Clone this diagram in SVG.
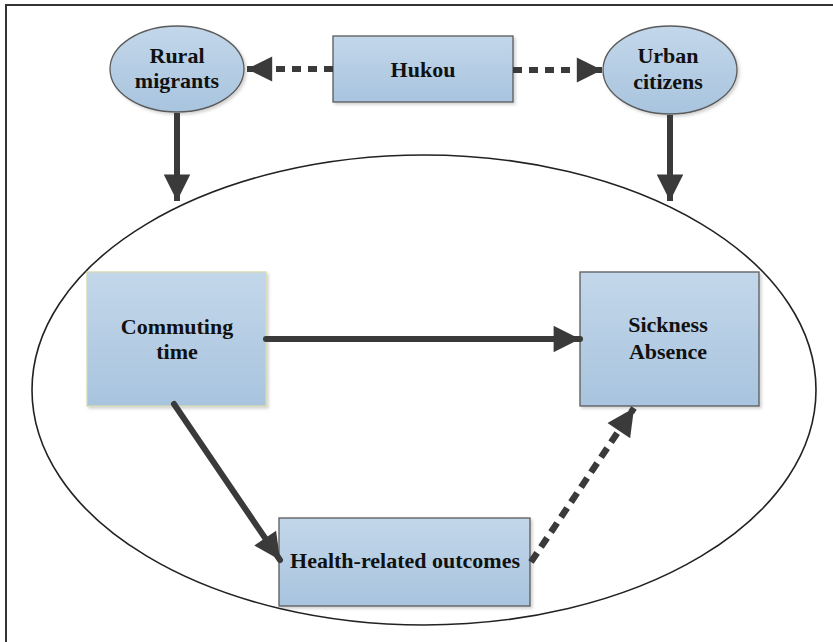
<svg xmlns="http://www.w3.org/2000/svg" width="833" height="642" viewBox="0 0 833 642">
  <defs>
    <linearGradient id="fill" x1="0" y1="0" x2="0" y2="1">
      <stop offset="0" stop-color="#c3d7ea"/>
      <stop offset="1" stop-color="#a8c4de"/>
    </linearGradient>
    <filter id="sh" x="-10%" y="-10%" width="130%" height="130%">
      <feDropShadow dx="2" dy="2" stdDeviation="1.5" flood-color="#000" flood-opacity="0.18"/>
    </filter>
    <marker id="ah" viewBox="0 0 10 10" refX="10" refY="5" markerWidth="6.4" markerHeight="4.4" markerUnits="strokeWidth" orient="auto">
      <path d="M0,0 L10,5 L0,10 Z" fill="#3a3a3a"/>
    </marker>
    <marker id="ahd" viewBox="0 0 10 10" refX="10" refY="5" markerWidth="5.2" markerHeight="4.2" markerUnits="strokeWidth" orient="auto">
      <path d="M0,0 L10,5 L0,10 Z" fill="#3a3a3a"/>
    </marker>
  </defs>
  <style>
    .node { fill: url(#fill); stroke: #5a5a5a; stroke-width: 1.3; filter: url(#sh); }
    .lbl { font-family: "Liberation Serif", "Times New Roman", serif; font-weight: bold; font-size: 22px; fill: #111; text-anchor: middle; }
    .solid { stroke: #3a3a3a; stroke-width: 6; fill: none; stroke-linecap: round; marker-end: url(#ah); }
    .dash { stroke: #3a3a3a; stroke-width: 6; fill: none; stroke-linecap: butt; stroke-dasharray: 9 7; marker-end: url(#ahd); }
  </style>
  <rect width="833" height="642" fill="#fff"/>
  <path d="M6,642 V5 H833" fill="none" stroke="#333" stroke-width="2"/>

  <ellipse id="outer" cx="424" cy="390" rx="392" ry="235" fill="none" stroke="#222" stroke-width="1.6"/>

  <g id="rural">
    <ellipse class="node" cx="177" cy="69" rx="67" ry="43"/>
    <text class="lbl" x="177" y="63">Rural</text>
    <text class="lbl" x="177" y="88">migrants</text>
  </g>
  <g id="hukou">
    <rect class="node" x="333" y="36" width="180" height="66"/>
    <text class="lbl" x="423" y="77">Hukou</text>
  </g>
  <g id="urban">
    <ellipse class="node" cx="670" cy="70" rx="67" ry="44"/>
    <text class="lbl" x="668" y="63">Urban</text>
    <text class="lbl" x="668" y="89">citizens</text>
  </g>
  <g id="commuting">
    <rect class="node" x="87" y="272" width="179" height="134" style="stroke:#d4d9b0"/>
    <text class="lbl" x="177" y="334">Commuting</text>
    <text class="lbl" x="177" y="359">time</text>
  </g>
  <g id="sickness">
    <rect class="node" x="580" y="272" width="179" height="134"/>
    <text class="lbl" x="668" y="332">Sickness</text>
    <text class="lbl" x="668" y="359">Absence</text>
  </g>
  <g id="health">
    <rect class="node" x="279" y="518" width="251" height="88"/>
    <text class="lbl" x="405" y="568">Health-related outcomes</text>
  </g>

  <g id="connectors">
    <line class="dash" x1="333" y1="69" x2="247" y2="69"/>
    <line class="dash" x1="513" y1="70" x2="602" y2="70"/>
    <line class="solid" x1="177" y1="113" x2="177" y2="201" style="stroke-linecap:butt"/>
    <line class="solid" x1="670" y1="115" x2="670" y2="201" style="stroke-linecap:butt"/>
    <line class="solid" x1="266" y1="339" x2="580" y2="339"/>
    <line class="solid" x1="174" y1="404" x2="280" y2="560"/>
    <line class="dash" x1="531" y1="562" x2="634" y2="408" style="stroke-width:6.5;stroke-dasharray:11 7"/>
  </g>
</svg>
